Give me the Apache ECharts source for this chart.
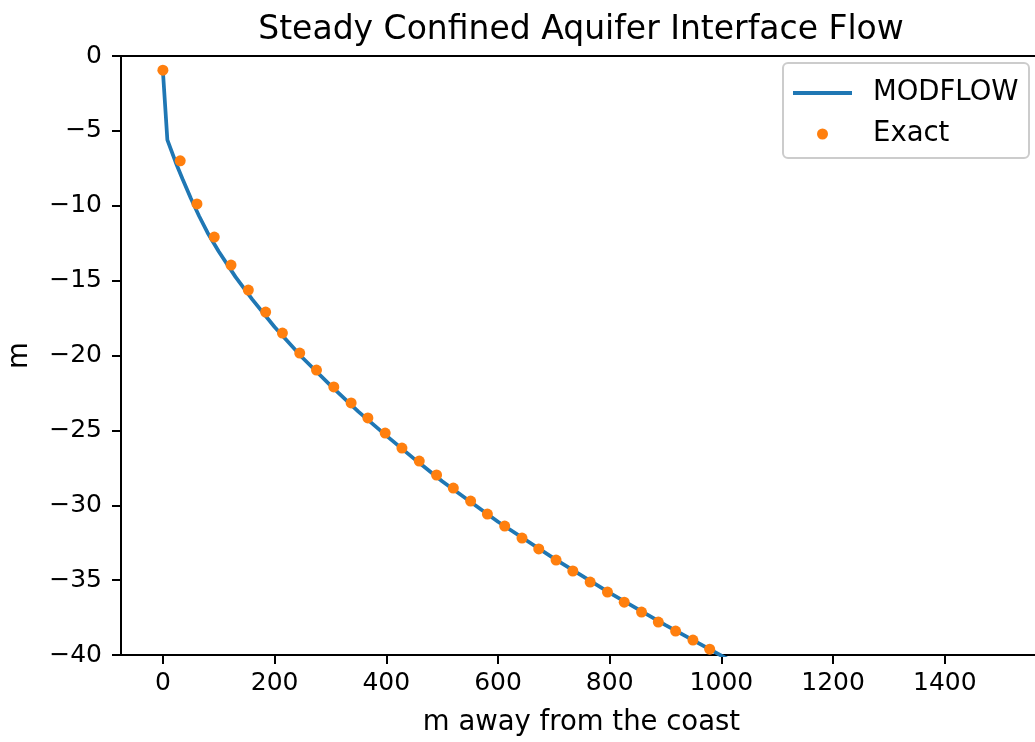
<!DOCTYPE html>
<html>
<head>
<meta charset="utf-8">
<title>Steady Confined Aquifer Interface Flow</title>
<script src="https://cdn.jsdelivr.net/npm/echarts@6/dist/echarts.min.js"></script>
<style>
  html, body { margin: 0; padding: 0; background: #fff; }
  #chart { width: 1035px; height: 742px; }
</style>
</head>
<body>
<div id="chart"></div>
<script>
// MODFLOW interface (x in m, z in m)
const modflowX = [0, 8, 15, 25, 35, 50, 65, 80, 100, 130, 160, 200, 250, 300, 350, 400, 450, 500,
  600, 700, 800, 900, 1000, 1100, 1200, 1300, 1400, 1495]
const modflowZ = [-1.0, -5.6, -6.3, -7.3, -8.2, -9.5, -10.7, -11.8, -13.05, -14.75, -16.25,
  -18.1, -20.15, -22.0, -23.75, -25.35, -26.9, -28.4, -31.1, -33.55, -35.85, -38.0, -40.05,
  -41.95, -43.8, -45.6, -47.3, -48.9]

// exact solution points
const exactX = [0, 31, 61, 92, 122, 153, 184, 214, 245, 275, 306, 337, 367, 398, 428, 459,
  490, 520, 551, 581, 612, 643, 673, 704, 734, 765, 796, 826, 857, 887, 918, 949, 979]
const exactZ = [-0.95, -7.0, -9.88, -12.09, -13.96, -15.63, -17.1, -18.5, -19.84, -20.97,
  -22.1, -23.17, -24.17, -25.18, -26.18, -27.05, -27.98, -28.85, -29.72, -30.59, -31.39,
  -32.19, -32.92, -33.66, -34.39, -35.13, -35.8, -36.47, -37.13, -37.8, -38.4, -39.0, -39.61]

// tick labels
const xTicks = [0, 200, 400, 600, 800, 1000, 1200, 1400]

const font = 'DejaVu Sans'
const chart = echarts.init(document.getElementById('chart'))

const option = {
  animation: false,
  backgroundColor: '#fff',
  title: {
    text: 'Steady Confined Aquifer Interface Flow',
    left: 581,
    top: 14,
    padding: 0,
    textAlign: 'center',
    textStyle: { fontFamily: font, fontSize: 33, fontWeight: 'normal', color: '#000' }
  },
  grid: {
    left: 121,
    right: -7,
    top: 56,
    bottom: 87,
    outerBoundsMode: 'none',
    containLabel: false,
    show: true,
    borderColor: '#000',
    borderWidth: 2
  },
  // legend line + dot
  legend: [
    {
      data: [{ name: 'MODFLOW', icon: 'rect' }],
      left: 793,
      top: 79,
      padding: 0,
      itemWidth: 59,
      itemHeight: 4,
      textStyle: { fontFamily: font, fontSize: 27.5, color: '#000', padding: [0, 0, 0, 16] }
    },
    {
      data: [{ name: 'Exact', icon: 'circle' }],
      left: 817,
      top: 120,
      padding: 0,
      itemWidth: 11,
      itemHeight: 11,
      textStyle: { fontFamily: font, fontSize: 27.5, color: '#000', padding: [0, 0, 0, 40] }
    }
  ],
  graphic: [
    {
      type: 'rect',
      shape: { x: 783, y: 63, width: 246, height: 95, r: 5 },
      style: { fill: 'rgba(255,255,255,0.8)', stroke: '#cccccc', lineWidth: 2 },
      z: -1
    }
  ],
  xAxis: {
    type: 'value',
    min: -75,
    max: 1574,
    name: 'm away from the coast',
    nameLocation: 'middle',
    nameGap: 54,
    nameTextStyle: { fontFamily: font, fontSize: 27.5, color: '#000' },
    axisLine: { show: false, onZero: false },
    axisTick: { show: true, customValues: xTicks, length: 9, inside: false,
      lineStyle: { color: '#000', width: 2 } },
    axisLabel: { customValues: xTicks, fontFamily: font, fontSize: 25, color: '#000', margin: 16,
      formatter: v => String(v) },
    splitLine: { show: false }
  },
  yAxis: {
    type: 'value',
    min: -40,
    max: 0,
    interval: 5,
    name: 'm',
    nameLocation: 'middle',
    nameGap: 87,
    nameTextStyle: { fontFamily: font, fontSize: 27.5, color: '#000' },
    axisLine: { show: false, onZero: false },
    axisTick: { show: true, length: 9, lineStyle: { color: '#000', width: 2 } },
    axisLabel: {
      fontFamily: font, fontSize: 25, color: '#000', margin: 19,
      formatter: v => (v < 0 ? '\u2212' + Math.abs(v) : String(v))
    },
    splitLine: { show: false }
  },
  series: [
    {
      name: 'MODFLOW',
      type: 'line',
      data: modflowX.map((x, i) => [x, modflowZ[i]]),
      showSymbol: false,
      symbol: 'none',
      clip: true,
      color: '#1f77b4',
      lineStyle: { color: '#1f77b4', width: 3.75 },
      z: 2
    },
    {
      name: 'Exact',
      type: 'scatter',
      data: exactX.map((x, i) => [x, exactZ[i]]),
      symbol: 'circle',
      symbolSize: 11,
      clip: true,
      itemStyle: { color: '#ff7f0e', opacity: 1 },
      z: 3
    }
  ]
}

chart.setOption(option)
</script>
</body>
</html>
